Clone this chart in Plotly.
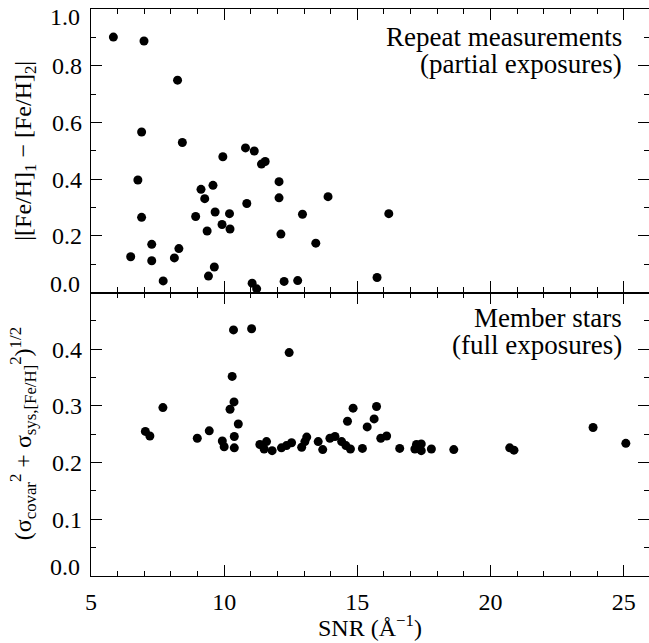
import plotly.graph_objects as go
from plotly.subplots import make_subplots

# Top panel: repeat measurements (partial exposures)
snr_rep = [5.84, 6.99, 8.25, 6.90, 8.43, 6.76, 6.90, 6.49, 7.28, 7.28, 7.71, 8.13, 8.30,
           8.93, 9.13, 9.27, 9.36, 9.41, 9.58, 9.66, 9.63, 9.95, 9.92, 10.20, 10.22,
           10.80, 10.85, 11.13, 11.40, 11.54, 11.05, 11.22, 12.06, 12.06, 12.13, 12.25,
           12.76, 12.94, 13.44, 13.90, 16.18, 15.74]
dfeh_rep = [0.901, 0.887, 0.749, 0.566, 0.529, 0.397, 0.265, 0.126, 0.170, 0.112, 0.041,
            0.122, 0.155, 0.268, 0.364, 0.331, 0.217, 0.058, 0.378, 0.284, 0.090, 0.479,
            0.240, 0.278, 0.224, 0.510, 0.314, 0.499, 0.453, 0.462, 0.033, 0.013, 0.391,
            0.334, 0.206, 0.039, 0.042, 0.276, 0.174, 0.338, 0.278, 0.053]

# Bottom panel: member stars (full exposures)
snr_mem = [7.04, 7.21, 7.70, 8.99, 9.44, 9.93, 10.00, 10.38, 10.38, 10.22, 10.37, 10.30,
           10.35, 10.53, 11.03, 11.34, 11.50, 11.59, 11.80, 12.15, 12.34, 12.53, 12.44,
           12.91, 13.03, 13.10, 13.53, 13.70, 13.97, 14.16, 14.41, 14.57, 14.74, 14.63,
           14.84, 15.19, 15.37, 15.63, 15.72, 15.88, 16.10, 16.59, 17.16, 17.22, 17.40,
           17.40, 17.78, 18.62, 20.72, 20.88, 23.85, 25.08]
err_mem = [0.255, 0.247, 0.297, 0.243, 0.256, 0.238, 0.228, 0.226, 0.246, 0.294, 0.307,
           0.352, 0.434, 0.268, 0.436, 0.232, 0.224, 0.237, 0.221, 0.226, 0.230, 0.235,
           0.394, 0.227, 0.237, 0.245, 0.237, 0.223, 0.243, 0.246, 0.237, 0.230, 0.224,
           0.273, 0.296, 0.225, 0.263, 0.277, 0.299, 0.243, 0.247, 0.225, 0.224, 0.232,
           0.233, 0.221, 0.224, 0.223, 0.226, 0.222, 0.262, 0.234]

x_tickvals = [5, 10, 15, 20, 25]
top_tickvals = [0.0, 0.2, 0.4, 0.6, 0.8, 1.0]
bot_tickvals = [0.0, 0.1, 0.2, 0.3, 0.4, 0.5]

FONT = "Liberation Serif, Times New Roman, Times, serif"
W, H = 649, 643
L, R, T, B = 91, 0, 9, 67

fig = make_subplots(rows=2, cols=1, shared_xaxes=True, vertical_spacing=0)

mk = dict(size=9, color="black", line=dict(width=0))
fig.add_trace(go.Scatter(x=snr_rep, y=dfeh_rep, mode="markers", marker=mk,
                         showlegend=False, cliponaxis=True), row=1, col=1)
fig.add_trace(go.Scatter(x=snr_mem, y=err_mem, mode="markers", marker=mk,
                         showlegend=False, cliponaxis=True), row=2, col=1)

axcommon = dict(showline=True, linecolor="black", linewidth=1.2, mirror="allticks",
                ticks="inside", ticklen=11, tickwidth=1.2, tickcolor="black",
                showgrid=False, zeroline=False,
                tickfont=dict(family=FONT, size=24, color="black"))

xr = [5, 25.95]
fig.update_xaxes(range=xr, tickvals=x_tickvals, ticktext=[str(v) for v in x_tickvals],
                 minor=dict(dtick=1, ticklen=5, tickwidth=1, ticks="inside", tickcolor="black"),
                 **axcommon)
fig.update_xaxes(showticklabels=False, row=1, col=1)
fig.update_xaxes(ticklabelstandoff=4, row=2, col=1)

# interior labels shown by the axis; the extreme labels (which sit on the frame)
# are placed with annotations, shifted inward as in the reference
YSTAND = 3
top_inner = top_tickvals[1:-1]
bot_inner = bot_tickvals[1:-1]
fig.update_yaxes(range=[top_tickvals[0], top_tickvals[-1]], tickvals=top_inner,
                 ticktext=[f"{v:.1f}" for v in top_inner],
                 minor=dict(dtick=0.1, ticklen=5, tickwidth=1, ticks="inside", tickcolor="black"),
                 ticklabelstandoff=YSTAND, row=1, col=1, **axcommon)
fig.update_yaxes(range=[bot_tickvals[0], bot_tickvals[-1]], tickvals=bot_inner,
                 ticktext=[f"{v:.1f}" for v in bot_inner],
                 minor=dict(dtick=0.05, ticklen=5, tickwidth=1, ticks="inside", tickcolor="black"),
                 ticklabelstandoff=YSTAND, row=2, col=1, **axcommon)

tf = dict(family=FONT, size=24, color="black")
ann = []
for yref, val, shift in [("y", top_tickvals[-1], -8), ("y", top_tickvals[0], 9),
                         ("y2", bot_tickvals[0], 9)]:
    ann.append(dict(text=f"{val:.1f}", xref="paper", x=-(9) / (W - L - R), xanchor="right",
                    yref=yref, y=val, yshift=shift, yanchor="middle", showarrow=False, font=tf))

# panel labels
lf = dict(family=FONT, size=27, color="black")
xr_txt = (624 - L) / (W - L - R)
for yref, txt, ypx_base in [("y domain", "Repeat measurements", 45),
                            ("y domain", "(partial exposures)", 72),
                            ("y2 domain", "Member stars", 326),
                            ("y2 domain", "(full exposures)", 353)]:
    if yref == "y domain":
        y0, y1 = 292.5, 9.3
    else:
        y0, y1 = 575.7, 292.5
    ycen = ypx_base - 8
    yfrac = (y0 - ycen) / (y0 - y1)
    ann.append(dict(text=txt, xref="x domain", x=xr_txt, xanchor="right", yref=yref,
                    y=yfrac, yanchor="middle", showarrow=False, font=lf))

# axis titles
ann.append(dict(text="|[Fe/H]<sub>1</sub> − [Fe/H]<sub>2</sub>|", textangle=-90,
                xref="paper", x=(25 - L) / (W - L - R), xanchor="center",
                yref="y domain", y=0.5, yanchor="middle", showarrow=False, font=tf))
ann.append(dict(text="(σ<sub>covar</sub><sup>2</sup> + σ<sub>sys,[Fe/H]</sub><sup>2</sup>)<sup>1/2</sup>",
                textangle=-90, xref="paper", x=(23 - L) / (W - L - R), xanchor="center",
                yref="y2 domain", y=0.5, yanchor="middle", showarrow=False, font=tf))
ann.append(dict(text="SNR (Å<sup>−1</sup>)", xref="paper", x=0.5, xanchor="center",
                yref="paper", y=-(626 - 575.7) / (H - T - B), yanchor="middle",
                showarrow=False, font=tf))

fig.update_layout(width=W, height=H, margin=dict(l=L, r=R, t=T, b=B),
                  paper_bgcolor="white", plot_bgcolor="white", annotations=ann,
                  font=dict(family=FONT, color="black"))

fig.write_html("out.html")
